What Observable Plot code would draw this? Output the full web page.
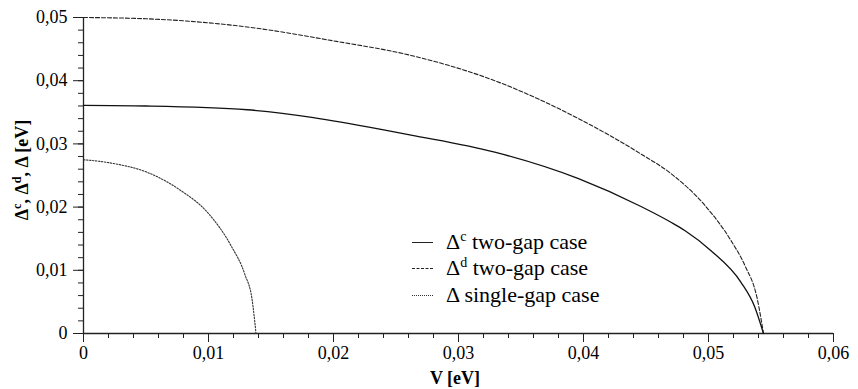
<!DOCTYPE html>
<html>
<head>
<meta charset="utf-8">
<style>
  html, body { margin: 0; padding: 0; background: #fff; font-family: "Liberation Serif", "Times New Roman", Times, serif; }
  #wrap { position: relative; width: 858px; height: 389px; }
  #legend { position: absolute; left: 0; top: 0; font-family: "Liberation Serif", "Times New Roman", Times, serif; font-size: 22px; color: #000; }
  .row { position: absolute; left: 412px; height: 26px; line-height: 26px; white-space: nowrap; }
  .sample { position: absolute; left: 0; top: 13px; width: 21px; height: 0; border-top: 1.3px solid #222; }
  .lbl { position: absolute; left: 34px; top: 0; }
  sup { font-size: 14px; vertical-align: 8px; line-height: 0; }
</style>
<script src="https://cdn.jsdelivr.net/npm/d3@7"></script>
<script src="https://cdn.jsdelivr.net/npm/@observablehq/plot@0.6"></script>
</head>
<body>
<div id="wrap">
  <div id="chart"></div>
  <div id="legend">
    <div class="row" style="top:229px"><div class="sample"></div><span class="lbl">Δ<sup>c</sup> two-gap case</span></div>
    <div class="row" style="top:255px"><div class="sample" style="border-top:1.1px dashed #222"></div><span class="lbl">Δ<sup>d</sup> two-gap case</span></div>
    <div class="row" style="top:282px"><div class="sample" style="border-top:1.1px dotted #333"></div><span class="lbl">Δ single-gap case</span></div>
  </div>
</div>
<script>
// Δd (two-gap case)
const Vd = [0, 0.005, 0.0131, 0.020, 0.0262, 0.0329, 0.0396, 0.0446, 0.0470, 0.0497, 0.0518, 0.0529, 0.0539, 0.0544];
const Dd = [0.0500, 0.0498, 0.0485, 0.0463, 0.0440, 0.0400, 0.0340, 0.0284, 0.0253, 0.0203, 0.0147, 0.0108, 0.0055, 0];
// Δc (two-gap case)
const Vc = [0, 0.005, 0.0131, 0.0238, 0.0262, 0.0329, 0.0396, 0.0446, 0.0470, 0.0481, 0.0502, 0.0526, 0.0537, 0.0544];
const Dc = [0.0361, 0.0360, 0.0354, 0.0323, 0.0314, 0.0287, 0.0245, 0.0201, 0.0176, 0.0163, 0.0131, 0.0081, 0.0042, 0];
// Δ (single-gap case)
const Vs = [0, 0.0024, 0.0051, 0.0078, 0.0099, 0.0118, 0.0129, 0.0135, 0.0138];
const Ds = [0.0275, 0.0269, 0.0255, 0.0226, 0.0192, 0.0139, 0.0094, 0.0052, 0];

const xTicks = [0, 0.01, 0.02, 0.03, 0.04, 0.05, 0.06];
const yTicks = [0, 0.01, 0.02, 0.03, 0.04, 0.05];
const xMinor = d3.range(0, 0.0601, 0.002);
const yMinor = d3.range(0, 0.0501, 0.002);

const fmt = d => d === 0 ? "0" : d3.format(".2f")(d).replace(".", ",");

const seriesC = Vc.map((v, i) => ({V: v, D: Dc[i]}));
const seriesD = Vd.map((v, i) => ({V: v, D: Dd[i]}));
const seriesS = Vs.map((v, i) => ({V: v, D: Ds[i]}));

const font = "Liberation Serif, Times New Roman, Times, serif";

const plot = Plot.plot({
  width: 858,
  height: 389,
  marginLeft: 83,
  marginRight: 25,
  marginTop: 17,
  marginBottom: 56,
  style: {fontFamily: font, fontSize: "18px", background: "#fff"},
  x: {domain: [0, 0.06]},
  y: {domain: [0, 0.05]},
  marks: [
    Plot.axisX({ticks: xMinor, tickSize: 5, tickFormat: () => "", label: null, stroke: "#222"}),
    Plot.axisX({ticks: xTicks, tickSize: 9, tickPadding: 4, tickFormat: fmt, label: null, stroke: "#222"}),
    Plot.axisY({ticks: yMinor, tickSize: 5, tickFormat: () => "", label: null, stroke: "#222"}),
    Plot.axisY({ticks: yTicks, tickSize: 10, tickPadding: 6, tickFormat: fmt, label: null, stroke: "#222"}),
    Plot.ruleX([0], {stroke: "#222", strokeWidth: 1.3}),
    Plot.ruleY([0], {stroke: "#222", strokeWidth: 1.3}),
    Plot.line(seriesD, {x: "V", y: "D", stroke: "#222", strokeWidth: 1.1, strokeDasharray: "4,2", curve: "monotone-x"}),
    Plot.line(seriesC, {x: "V", y: "D", stroke: "#111", strokeWidth: 1.3, curve: "monotone-x"}),
    Plot.line(seriesS, {x: "V", y: "D", stroke: "#333", strokeWidth: 1.1, strokeDasharray: "1.5,1.5", curve: "monotone-x"})
  ]
});

document.getElementById("chart").appendChild(plot);

const svg = d3.select(plot);

// x-axis label
svg.append("text")
  .attr("x", 455).attr("y", 384)
  .attr("text-anchor", "middle")
  .attr("font-family", font).attr("font-size", 18).attr("font-weight", "bold")
  .text("V [eV]");

// y-axis label
const yl = svg.append("text")
  .attr("transform", "translate(28,170) rotate(-90)")
  .attr("text-anchor", "middle")
  .attr("font-family", font).attr("font-size", 18).attr("font-weight", "bold");
yl.append("tspan").text("Δ");
yl.append("tspan").attr("dy", -7).attr("font-size", 12).text("c");
yl.append("tspan").attr("dy", 7).text(", Δ");
yl.append("tspan").attr("dy", -7).attr("font-size", 12).text("d");
yl.append("tspan").attr("dy", 7).text(", Δ [eV]");
</script>
</body>
</html>
